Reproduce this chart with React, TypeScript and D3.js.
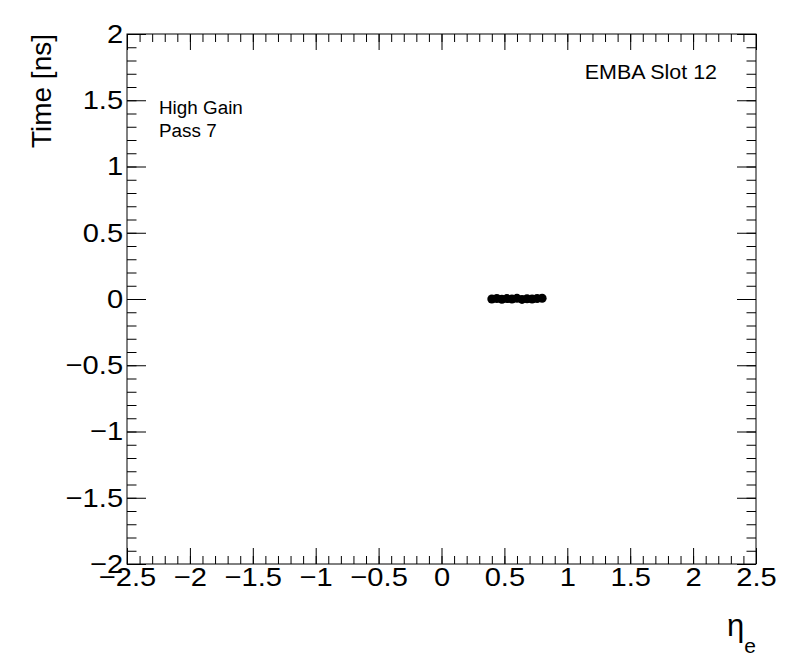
import React, { useEffect, useRef } from 'react';
import * as d3 from 'd3';

// eta of each cell and its time offset
const etaValues = [0.4, 0.44, 0.48, 0.52, 0.56, 0.6, 0.64, 0.68, 0.72, 0.76, 0.8];
const timeValues = [0.0, 0.004, -0.002, 0.003, 0.0, 0.005, -0.003, 0.002, 0.0, 0.004, 0.006];

const xDomain = [-2.5, 2.5];
const yDomain = [-2, 2];
const labelLines = ['High Gain', 'Pass 7'];
const moduleLabel = 'EMBA Slot 12';

const W = 796;
const H = 672;
const FONT = '"Liberation Sans", Arial, Helvetica, sans-serif';
// ROOT's helvetica is a bit wider than Liberation Sans
const SX = 1.12;

export default function App() {
    const ref = useRef<SVGSVGElement>(null);

    useEffect(() => {
        const svg = d3.select(ref.current);
        svg.selectAll('*').remove();

        const left = 127, right = 756, top = 34, bottom = 564;

        const x = d3.scaleLinear().domain(xDomain).range([left, right]);
        const y = d3.scaleLinear().domain(yDomain).range([bottom, top]);

        const xMajor = x.ticks(10);
        const xMinor = x.ticks(50);
        const yMajor = y.ticks(8);
        const yMinor = y.ticks(40);
        const fmt = d3.format('~g');

        const styleAxis = (g: any) => {
            g.select('.domain').remove();
            g.selectAll('line').attr('stroke', '#000').attr('stroke-width', 1);
            g.selectAll('text')
                .attr('fill', '#000')
                .attr('font-family', FONT)
                .attr('font-size', 26)
                .attr('transform', `scale(${SX},1)`);
        };

        // bottom axis
        svg.append('g').attr('transform', `translate(0,${bottom})`)
            .call(d3.axisBottom(x).tickValues(xMinor).tickSize(-8).tickFormat(() => ''))
            .call(styleAxis);
        svg.append('g').attr('transform', `translate(0,${bottom})`)
            .call(d3.axisBottom(x).tickValues(xMajor).tickSize(-16).tickPadding(4).tickFormat((d: any) => fmt(d)))
            .call(styleAxis);

        // top axis
        svg.append('g').attr('transform', `translate(0,${top})`)
            .call(d3.axisTop(x).tickValues(xMinor).tickSize(-8).tickFormat(() => ''))
            .call(styleAxis);
        svg.append('g').attr('transform', `translate(0,${top})`)
            .call(d3.axisTop(x).tickValues(xMajor).tickSize(-16).tickFormat(() => ''))
            .call(styleAxis);

        // left axis
        svg.append('g').attr('transform', `translate(${left},0)`)
            .call(d3.axisLeft(y).tickValues(yMinor).tickSize(-9.5).tickFormat(() => ''))
            .call(styleAxis);
        svg.append('g').attr('transform', `translate(${left},0)`)
            .call(d3.axisLeft(y).tickValues(yMajor).tickSize(-19).tickPadding(3.5).tickFormat((d: any) => fmt(d)))
            .call(styleAxis);

        // right axis
        svg.append('g').attr('transform', `translate(${right},0)`)
            .call(d3.axisRight(y).tickValues(yMinor).tickSize(-9.5).tickFormat(() => ''))
            .call(styleAxis);
        svg.append('g').attr('transform', `translate(${right},0)`)
            .call(d3.axisRight(y).tickValues(yMajor).tickSize(-19).tickFormat(() => ''))
            .call(styleAxis);

        // frame
        svg.append('rect')
            .attr('x', left).attr('y', top)
            .attr('width', right - left).attr('height', bottom - top)
            .attr('fill', 'none').attr('stroke', '#000').attr('stroke-width', 1);

        // points
        svg.append('g').selectAll('circle')
            .data(etaValues).enter()
            .append('circle')
            .attr('cx', (d) => x(d))
            .attr('cy', (d, i) => y(timeValues[i]))
            .attr('r', 4.5)
            .attr('fill', '#000');

        // y title
        svg.append('text')
            .attr('transform', `translate(51,${top}) rotate(-90)`)
            .attr('text-anchor', 'end')
            .attr('font-family', FONT)
            .attr('font-size', 28)
            .text('Time [ns]');

        // x title
        const xt = svg.append('text')
            .attr('x', right)
            .attr('y', 636)
            .attr('text-anchor', 'end')
            .attr('font-family', FONT)
            .attr('font-size', 31);
        xt.append('tspan').text('η');
        xt.append('tspan').attr('dy', 17).attr('font-size', 21).text('e');

        // labels
        svg.append('text')
            .attr('transform', `translate(717,79) scale(1.1,1)`)
            .attr('text-anchor', 'end')
            .attr('font-family', FONT)
            .attr('font-size', 19.5)
            .text(moduleLabel);

        svg.append('g').selectAll('text')
            .data(labelLines).enter()
            .append('text')
            .attr('transform', (d, i) => `translate(159,${114 + i * 23}) scale(1.06,1)`)
            .attr('font-family', FONT)
            .attr('font-size', 17.8)
            .text((d) => d);
    }, []);

    return (
        <svg ref={ref} width={W} height={H}
            style={{ position: 'absolute', left: 0, top: 0, background: '#fff' }} />
    );
}
